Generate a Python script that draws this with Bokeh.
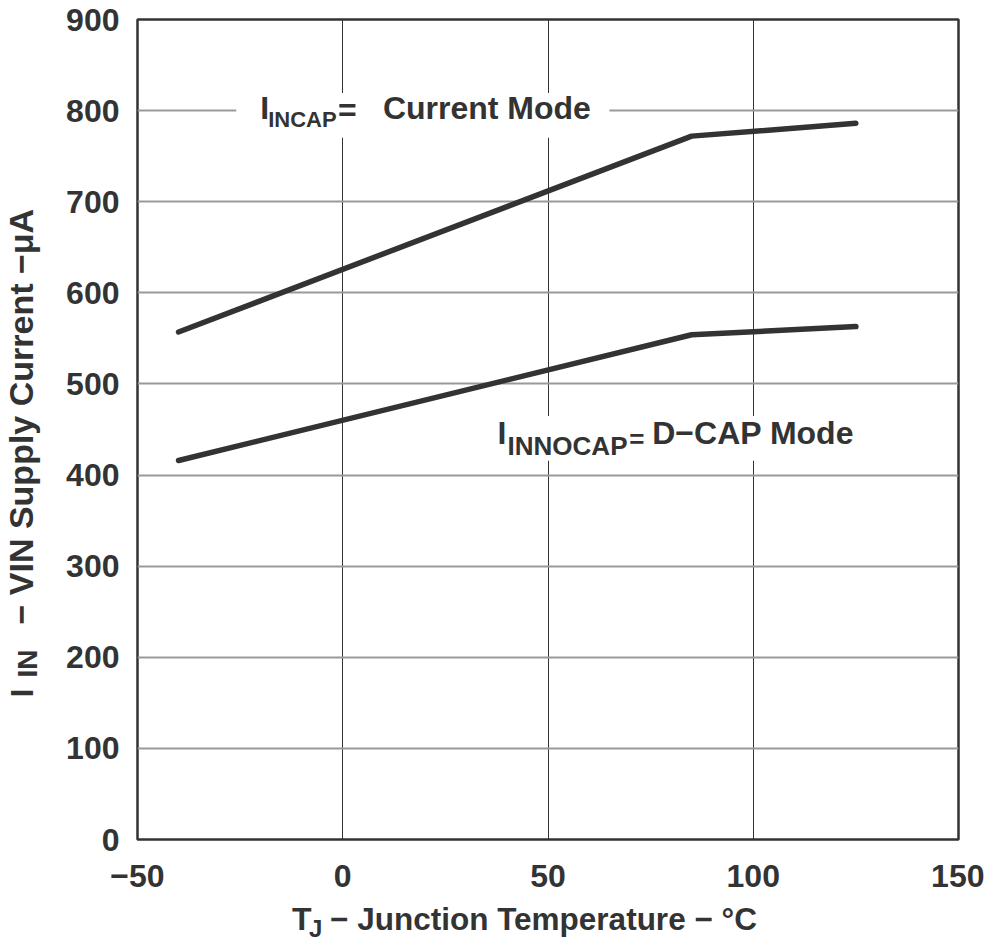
import math
from bokeh.plotting import figure
from bokeh.models import Label, BoxAnnotation, FixedTicker, Range1d
from bokeh.layouts import row, column
from bokeh.embed import file_html
from bokeh.resources import INLINE

# ---- data ----
temp_c = [-40, 85, 125]
i_current_mode = [557, 772, 786]
i_dcap_mode = [416, 554, 563]

x_ticks = [-50, 0, 50, 100, 150]
x_tick_labels = ["\u221250", "0", "50", "100", "150"]
y_ticks = [0, 100, 200, 300, 400, 500, 600, 700, 800, 900]
y_tick_labels = ["0", "100", "200", "300", "400", "500", "600", "700", "800", "900"]

# ---- style / layout ----
FONT = "Liberation Sans"
TXT = "#333333"
YT_W = 60               # width of the y-title strip
MAIN_W, MAIN_H = 924, 895
XT_H = 48               # height of the x-title strip
FL, FR, FT, FB = 137, 958, 19, 839   # frame edges, page px
K = 0.36                # baseline correction (fraction of font size)

p = figure(width=MAIN_W, height=MAIN_H, output_backend="svg", toolbar_location=None,
           title=None,
           x_range=Range1d(-50, 150), y_range=Range1d(0, 900),
           min_border_left=FL - YT_W, min_border_right=YT_W + MAIN_W - FR,
           min_border_top=FT, min_border_bottom=MAIN_H - FB)
p.background_fill_color = "white"
p.border_fill_color = "white"
p.outline_line_color = "#333333"
p.outline_line_width = 2.5

for ax in (p.xaxis[0], p.yaxis[0]):
    ax.axis_line_color = None
    ax.major_tick_in = 0
    ax.major_tick_out = 0
    ax.minor_tick_line_color = None
    ax.major_label_text_font = FONT
    ax.major_label_text_font_style = "bold"
    ax.major_label_text_font_size = "32px"
    ax.major_label_text_color = TXT

p.xaxis[0].ticker = FixedTicker(ticks=x_ticks)
p.xaxis[0].major_label_overrides = dict(zip(x_ticks, x_tick_labels))
p.xaxis[0].major_label_standoff = 25
p.yaxis[0].ticker = FixedTicker(ticks=y_ticks)
p.yaxis[0].major_label_overrides = dict(zip(y_ticks, y_tick_labels))
p.yaxis[0].major_label_standoff = 18

p.xgrid[0].ticker = FixedTicker(ticks=x_ticks)
p.xgrid[0].grid_line_color = "#333333"
p.xgrid[0].grid_line_width = 1
p.ygrid[0].ticker = FixedTicker(ticks=y_ticks)
p.ygrid[0].grid_line_color = "#999999"
p.ygrid[0].grid_line_width = 2

p.line(temp_c, i_current_mode, line_color="#333333", line_width=5.5, line_cap="round", line_join="round")
p.line(temp_c, i_dcap_mode, line_color="#333333", line_width=5.5, line_cap="round", line_join="round")


# reference picture px -> data (reference frame: x 137..960, y 14..839)
def rx(px):
    return (px - 137) / 823 * 200 - 50


def ry(py):
    return (839 - py) / 825 * 900


def mk(fig, x, y, text, size, angle=0.0):
    fig.add_layout(Label(x=x, y=y, text=text, text_font=FONT, text_font_style="bold",
                         text_font_size=f"{size}px", text_color=TXT, angle=angle,
                         text_baseline="alphabetic", text_align="left"))


def lab_main(px, py, text, size):
    mk(p, rx(px), ry(py - K * size), text, size)


# background boxes for in-plot labels
p.add_layout(BoxAnnotation(left=rx(236), right=rx(610), bottom=ry(133), top=ry(88),
                           fill_color="white", fill_alpha=1.0, line_color=None))
p.add_layout(BoxAnnotation(left=rx(480), right=rx(880), bottom=ry(458), top=ry(413),
                           fill_color="white", fill_alpha=1.0, line_color=None))

# I_INCAP = Current Mode
lab_main(260, 115, "I", 32)
lab_main(268, 123, "INCAP", 22)
lab_main(338, 117, "=", 32)
lab_main(383, 115, "Current Mode", 32)

# I_INNOCAP = D-CAP Mode
lab_main(498, 442, "I", 32)
lab_main(508, 452, "INNOCAP", 26)
lab_main(630, 445, "=", 26)
lab_main(653, 442, "D\u2212CAP Mode", 32)

# ---- y-title strip (page coordinates: x 0..60, y 0..895 downwards) ----
yt = figure(width=YT_W, height=MAIN_H, output_backend="svg", toolbar_location=None,
            title=None,
            x_range=Range1d(0, YT_W), y_range=Range1d(MAIN_H, 0),
            x_axis_location=None, y_axis_location=None,
            min_border=0, min_border_left=0, min_border_right=0,
            min_border_top=0, min_border_bottom=0)
yt.outline_line_color = None
yt.grid.visible = False
A = math.pi / 2


def lab_y(px, py, text, size):
    mk(yt, px - K * size, py, text, size, angle=A)


lab_y(33, 697, "I", 32)
lab_y(37, 677, "IN", 28)
lab_y(33, 624, "\u2212 VIN Supply Current \u2212\u03bcA", 34)

# ---- x-title strip: frame is aligned with the main frame horizontally ----
xt = figure(width=MAIN_W, height=XT_H, output_backend="svg", toolbar_location=None,
            title=None,
            x_range=Range1d(-50, 150), y_range=Range1d(MAIN_H + XT_H, MAIN_H),
            x_axis_location=None, y_axis_location=None,
            min_border=0, min_border_left=FL - YT_W, min_border_right=YT_W + MAIN_W - FR,
            min_border_top=0, min_border_bottom=0)
xt.outline_line_color = None
xt.grid.visible = False


def lab_x(px, py, text, size):
    mk(xt, rx(px), py - K * size, text, size)


lab_x(292, 930, "T", 32)
lab_x(309, 937, "J", 24)
lab_x(330, 930, "\u2212 Junction Temperature \u2212 \u00b0C", 31.5)

layout = row(yt, column(p, xt, spacing=0), spacing=0)

open("out.html", "w").write(file_html(layout, INLINE))
